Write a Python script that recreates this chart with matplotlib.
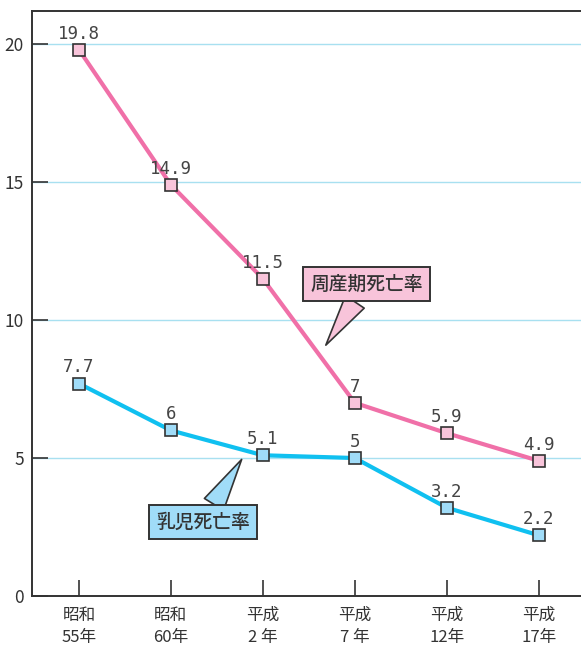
import matplotlib
matplotlib.use("Agg")
import matplotlib.pyplot as plt

plt.rcParams['font.family'] = ['Noto Sans CJK JP', 'DejaVu Sans']

# data
years = ["昭和\n55年", "昭和\n60年", "平成\n2 年", "平成\n7 年", "平成\n12年", "平成\n17年"]
perinatal = [19.8, 14.9, 11.5, 7, 5.9, 4.9]
infant = [7.7, 6, 5.1, 5, 3.2, 2.2]
yticks = [0, 5, 10, 15, 20]

PINK = "#f070a8"
PINK_FILL = "#f8c4da"
BLUE = "#10c0f0"
BLUE_FILL = "#a0dcf8"
GRID = "#a8e0f0"
DARK = "#333333"

fig = plt.figure(figsize=(5.81, 6.46), dpi=100)
ax = fig.add_axes([0.0551, 0.0774, 0.9449, 0.9056])

x = list(range(len(years)))

ax.set_xlim(-0.51, 5.46)
ax.set_ylim(0, 21.2)
ax.set_yticks(yticks)
ax.set_xticks(x)
ax.set_xticklabels(years, fontsize=12, linespacing=1.35, color=DARK)
ax.set_yticklabels([str(t) for t in yticks], fontsize=12.5, color=DARK)
ax.tick_params(axis='both', direction='in', length=11.5, width=1.2, color=DARK)
ax.tick_params(axis='y', pad=6)
ax.tick_params(axis='x', pad=8)

for s in ['left', 'bottom', 'top']:
    ax.spines[s].set_color(DARK)
    ax.spines[s].set_linewidth(1.4)
ax.spines['right'].set_visible(False)

ax.grid(axis='y', color=GRID, linewidth=1.0, zorder=0)
ax.set_axisbelow(True)

for vals, lc, fc in [(perinatal, PINK, PINK_FILL), (infant, BLUE, BLUE_FILL)]:
    ax.plot(x, vals, color=lc, lw=3, zorder=3,
            marker='s', markersize=8.5, markerfacecolor=fc,
            markeredgecolor=DARK, markeredgewidth=1.2)
    for xi, v in zip(x, vals):
        ax.annotate(f"{v:g}", (xi, v), xytext=(0, 8), textcoords='offset points',
                    ha='center', va='baseline', fontsize=12.5, color="#444444",
                    family='DejaVu Sans Mono', zorder=4)

# callout labels
ax.annotate("周産期死亡率", xy=(2.685, 9.09), xytext=(3.13, 11.3),
            ha='center', va='center', fontsize=13.5, fontweight='medium',
            color=DARK, zorder=5,
            bbox=dict(boxstyle='square,pad=0.4', fc=PINK_FILL, ec=DARK, lw=1.4),
            arrowprops=dict(arrowstyle='wedge,tail_width=1.2', fc=PINK_FILL,
                            ec=DARK, lw=1.2, shrinkA=0, shrinkB=0))
ax.annotate("乳児死亡率", xy=(1.77, 4.95), xytext=(1.35, 2.68),
            ha='center', va='center', fontsize=13.5, fontweight='medium',
            color=DARK, zorder=5,
            bbox=dict(boxstyle='square,pad=0.4', fc=BLUE_FILL, ec=DARK, lw=1.4),
            arrowprops=dict(arrowstyle='wedge,tail_width=1.2', fc=BLUE_FILL,
                            ec=DARK, lw=1.2, shrinkA=0, shrinkB=0))

fig.savefig("out.png", dpi=100)
